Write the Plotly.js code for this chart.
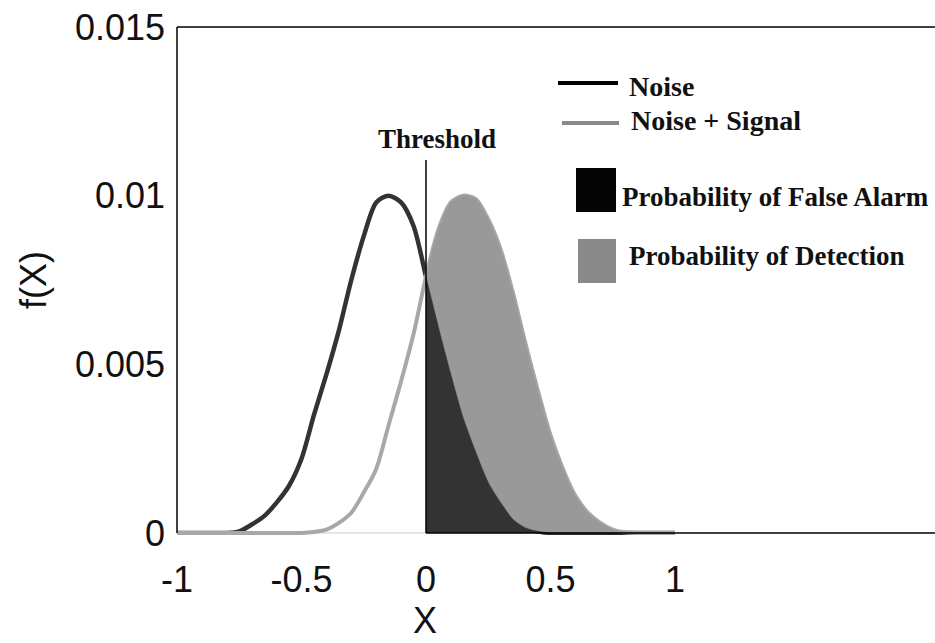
<!DOCTYPE html>
<html>
<head>
<meta charset="utf-8">
<script src="https://cdn.plot.ly/plotly-3.0.1.min.js"></script>
<style>
  html, body { margin: 0; padding: 0; overflow: hidden; background: #ffffff; }
  #chart { width: 950px; height: 643px; }
</style>
</head>
<body>
<div id="chart"></div>
<script>
// X grid (read every 0.05 from the picture)
const xValues = [-1, -0.95, -0.9, -0.85, -0.8, -0.75, -0.7, -0.65, -0.6, -0.55,
                 -0.5, -0.45, -0.4, -0.35, -0.3, -0.25, -0.2, -0.15, -0.1, -0.05,
                 0, 0.05, 0.1, 0.15, 0.2, 0.25, 0.3, 0.35, 0.4, 0.45,
                 0.5, 0.55, 0.6, 0.65, 0.7, 0.75, 0.8, 0.85, 0.9, 0.95, 1];

// f(X) of the Noise curve
const noiseValues = [0, 0, 0, 0, 0, 0.00005, 0.00025, 0.0005, 0.0009, 0.0014,
                     0.0022, 0.0035, 0.0047, 0.0060, 0.0075, 0.0088, 0.0098, 0.0100, 0.0098, 0.0091,
                     0.0076, 0.0061, 0.0047, 0.0034, 0.0024, 0.0015, 0.0009, 0.0004, 0.00015, 0.00005,
                     0, 0, 0, 0, 0, 0, 0, 0, 0, 0, 0];

// f(X) of the Noise + Signal curve
const signalValues = [0, 0, 0, 0, 0, 0, 0, 0, 0, 0,
                      0, 0.00003, 0.0001, 0.0003, 0.0006, 0.0012, 0.0019, 0.0032, 0.0045, 0.0059,
                      0.0076, 0.0090, 0.0098, 0.0100, 0.0099, 0.0093, 0.0084, 0.0071, 0.0056, 0.0042,
                      0.0029, 0.0019, 0.0011, 0.0006, 0.0003, 0.0001, 0.00002, 0, 0, 0, 0];

const threshold = 0;
const thresholdTop = 0.01106;

const xTickVals = [-1, -0.5, 0, 0.5, 1];
const xTickText = ['-1', '-0.5', '0', '0.5', '1'];
const yTickVals = [0, 0.005, 0.01, 0.015];
const yTickText = ['0', '0.005', '0.01', '0.015'];

const xTitle = 'X';
const yTitle = 'f(X)';
const legendLabels = ['Noise', 'Noise + Signal', 'Probability of False Alarm', 'Probability of Detection'];

// Build the right-of-threshold subsets for the shaded areas
const idx = xValues.map((x, i) => i).filter(i => xValues[i] >= threshold);
const xRight = idx.map(i => xValues[i]);
const noiseRight = idx.map(i => noiseValues[i]);
const signalRight = idx.map(i => signalValues[i]);

const sansFont = 'Liberation Sans, Arial, sans-serif';
const serifFont = 'Liberation Serif, Times New Roman, serif';

const traces = [
  {
    x: xValues, y: noiseValues, type: 'scatter', mode: 'lines', name: legendLabels[0],
    line: { color: '#333333', width: 4.5, shape: 'spline', smoothing: 0.8 },
    hoverinfo: 'skip'
  },
  {
    x: xValues, y: signalValues, type: 'scatter', mode: 'lines', name: legendLabels[1],
    line: { color: '#a8a8a8', width: 4, shape: 'spline', smoothing: 0.8 },
    hoverinfo: 'skip'
  },
  {
    x: xRight, y: signalRight, type: 'scatter', mode: 'lines', name: legendLabels[3],
    fill: 'tozeroy', fillcolor: '#999999',
    line: { color: '#999999', width: 0.5, shape: 'spline', smoothing: 0.8 },
    hoverinfo: 'skip'
  },
  {
    x: xRight, y: noiseRight, type: 'scatter', mode: 'lines', name: legendLabels[2],
    fill: 'tozeroy', fillcolor: '#333333',
    line: { color: '#333333', width: 0.5, shape: 'spline', smoothing: 0.8 },
    hoverinfo: 'skip'
  }
];

// pixel -> data helpers for the hand-drawn legend (layout decoration only)
const px2x = p => (p - 426) / 249;
const py2y = p => (533 - p) / 33733;
// pixel -> paper helpers for axis titles
const px2paper = p => (p - 177) / 773;
const py2paper = p => (535 - p) / 508;

const legendFont = (size) => ({ family: serifFont, size: size, color: '#111111' });
const axisFont = { family: sansFont, size: 36, color: '#111111' };

const layout = {
  width: 950, height: 643,
  margin: { l: 177, r: 0, t: 27, b: 108, pad: 0 },
  paper_bgcolor: '#ffffff', plot_bgcolor: '#ffffff',
  showlegend: false,
  xaxis: {
    range: [-1, 2.1044], autorange: false,
    tickmode: 'array', tickvals: xTickVals, ticktext: xTickText,
    showgrid: false, zeroline: false, showline: false, ticks: '',
    ticklabelstandoff: 20,
    tickfont: axisFont,
    automargin: false
  },
  yaxis: {
    range: [-0.00006, 0.015], autorange: false,
    tickmode: 'array', tickvals: yTickVals, ticktext: yTickText,
    showgrid: false, zeroline: false, showline: false,
    ticks: '', ticklabelstandoff: 11,
    tickfont: axisFont,
    automargin: false
  },
  shapes: [
    // frame: top and left
    { type: 'line', xref: 'paper', yref: 'paper', x0: 0, x1: 1, y0: 1, y1: 1, line: { color: '#000000', width: 1.5 } },
    { type: 'line', xref: 'paper', yref: 'y', x0: 0, x1: 0, y0: 0, y1: 0.015, line: { color: '#000000', width: 1.5 } },
    // bottom frame (light on the left, dark from the threshold)
    { type: 'line', xref: 'x', yref: 'y', x0: -1, x1: threshold, y0: 0, y1: 0, line: { color: '#cccccc', width: 1 }, layer: 'below' },
    { type: 'line', xref: 'x', yref: 'y', x0: threshold, x1: 2.1044, y0: 0, y1: 0, line: { color: '#000000', width: 1.5 } },
    // threshold line
    { type: 'line', xref: 'x', yref: 'y', x0: threshold, x1: threshold, y0: 0, y1: thresholdTop, line: { color: '#000000', width: 1.5 } },
    // legend marks
    { type: 'line', xref: 'x', yref: 'y', x0: px2x(558), x1: px2x(618), y0: py2y(83), y1: py2y(83), line: { color: '#000000', width: 4 } },
    { type: 'line', xref: 'x', yref: 'y', x0: px2x(562), x1: px2x(619), y0: py2y(123), y1: py2y(123), line: { color: '#8a8a8a', width: 4 } },
    { type: 'rect', xref: 'x', yref: 'y', x0: px2x(576), x1: px2x(616), y0: py2y(212), y1: py2y(168), fillcolor: '#050505', line: { width: 0 } },
    { type: 'rect', xref: 'x', yref: 'y', x0: px2x(578), x1: px2x(616), y0: py2y(283), y1: py2y(239), fillcolor: '#8a8a8a', line: { width: 0 } }
  ],
  annotations: [
    // axis titles
    { text: xTitle, xref: 'paper', yref: 'paper', x: px2paper(425), y: py2paper(642), xanchor: 'center', yanchor: 'bottom', borderpad: 0, showarrow: false, font: axisFont },
    { text: yTitle, xref: 'paper', yref: 'paper', x: px2paper(33), y: py2paper(280), xanchor: 'center', yanchor: 'middle', textangle: -90, showarrow: false, font: axisFont },
    // threshold label and legend text
    { text: '<b>Threshold</b>', xref: 'x', yref: 'y', x: px2x(437), y: py2y(139), xanchor: 'center', yanchor: 'middle', showarrow: false, font: legendFont(27) },
    { text: '<b>' + legendLabels[0] + '</b>', xref: 'x', yref: 'y', x: px2x(627), y: py2y(87), xanchor: 'left', yanchor: 'middle', showarrow: false, font: legendFont(28) },
    { text: '<b>' + legendLabels[1] + '</b>', xref: 'x', yref: 'y', x: px2x(629), y: py2y(121), xanchor: 'left', yanchor: 'middle', showarrow: false, font: legendFont(28) },
    { text: '<b>' + legendLabels[2] + '</b>', xref: 'x', yref: 'y', x: px2x(620), y: py2y(197), xanchor: 'left', yanchor: 'middle', showarrow: false, font: legendFont(27) },
    { text: '<b>' + legendLabels[3] + '</b>', xref: 'x', yref: 'y', x: px2x(627), y: py2y(256), xanchor: 'left', yanchor: 'middle', showarrow: false, font: legendFont(27) }
  ]
};

Plotly.newPlot('chart', traces, layout, { displayModeBar: false, staticPlot: true });
</script>
</body>
</html>
